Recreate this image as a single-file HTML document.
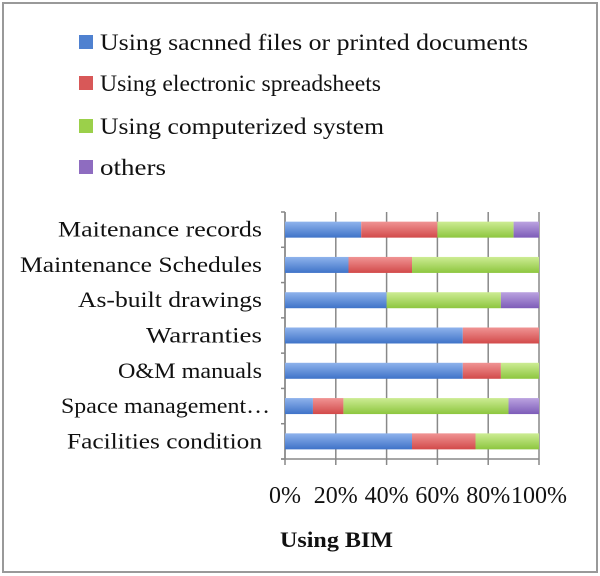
<!DOCTYPE html>
<html><head><meta charset="utf-8"><style>
body{margin:0;background:#fff;}
svg{display:block;font-family:"Liberation Serif",serif;}
</style></head><body>
<svg width="600" height="576" viewBox="0 0 600 576">
<defs>
<linearGradient id="gb" x1="0" y1="0" x2="0" y2="1"><stop offset="0" stop-color="#8fb3ec"/><stop offset="1" stop-color="#3f73c8"/></linearGradient>
<linearGradient id="gr" x1="0" y1="0" x2="0" y2="1"><stop offset="0" stop-color="#f09494"/><stop offset="1" stop-color="#d24a4a"/></linearGradient>
<linearGradient id="gg" x1="0" y1="0" x2="0" y2="1"><stop offset="0" stop-color="#cdec94"/><stop offset="1" stop-color="#8dc63f"/></linearGradient>
<linearGradient id="gp" x1="0" y1="0" x2="0" y2="1"><stop offset="0" stop-color="#bba3e0"/><stop offset="1" stop-color="#7d5cb8"/></linearGradient>
</defs>
<rect x="3" y="3" width="594" height="569" fill="#fff" stroke="#999" stroke-width="2"/>
<g id="legend"></g>
<g id="grid"></g>
<g id="bars"></g>
<g id="labels"></g>
<text x="280" y="547" textLength="113" lengthAdjust="spacingAndGlyphs" font-size="22" font-weight="bold" fill="#111">Using BIM</text>
</svg>
<script>
const categories = ["Maitenance records","Maintenance Schedules","As-built drawings","Warranties","O&M manuals","Space management…","Facilities condition"];
const seriesNames = ["Using sacnned files or printed documents","Using electronic spreadsheets","Using computerized system","others"];
const scanned = [30,25,40,70,70,11,50];
const spreadsheets = [30,25,0,30,15,12,25];
const computerized = [30,50,45,0,15,65,25];
const others = [10,0,15,0,0,12,0];
const tickLabels = ["0%","20%","40%","60%","80%","100%"];
const tickValues = [0,20,40,60,80,100];

const NS="http://www.w3.org/2000/svg";
const fills=["url(#gb)","url(#gr)","url(#gg)","url(#gp)"];
const legendFill=["#4f81d0","#d85858","#9bd04a","#8e6cc0"];
const legendW=[428,281,284,66];
const catStart=[58,20,78,146,118,61,67];
const catEnd=[262,262,262,262,262,270,262];
const X0=285,X1=539,Y0=212,Y1=459;
const band=(Y1-Y0)/categories.length;
const xs=v=>X0+(X1-X0)*v/100;
const yc=i=>Y0+band*(i+0.5);
function mk(tag,attrs,parent){const e=document.createElementNS(NS,tag);for(const k in attrs)e.setAttribute(k,attrs[k]);parent.appendChild(e);return e;}
const gL=document.getElementById('legend'),gG=document.getElementById('grid'),gB=document.getElementById('bars'),gT=document.getElementById('labels');
const ly=[42,83,126,167];
seriesNames.forEach((n,i)=>{
 const r=mk('rect',{x:79,y:ly[i]-7,width:14,height:14,fill:legendFill[i]},gL);
 
 
 const t=mk('text',{x:100,y:ly[i]+8,'font-size':23,fill:'#111',textLength:legendW[i],lengthAdjust:'spacingAndGlyphs'},gL);t.textContent=n;
 
 
});
tickValues.forEach((v,i)=>{
 const l=mk('line',{x1:xs(v),x2:xs(v),y1:Y0,y2:Y1+6,stroke:'#888','stroke-width':1.5},gG);
 
 
 const t=mk('text',{x:xs(v),y:503,'text-anchor':'middle','font-size':24,fill:'#111'},gT);t.textContent=tickLabels[i];
 
 
});
const ax=mk('line',{x1:X0,x2:X0,y1:Y0,y2:Y1,stroke:'#888','stroke-width':1.5},gG);


const bx=mk('line',{x1:X0-4,x2:X1,y1:Y1,y2:Y1,stroke:'#888','stroke-width':1.5},gG);


for(let i=0;i<=categories.length;i++){mk('line',{x1:X0-4,x2:X0,y1:Y0+band*i,y2:Y0+band*i,stroke:'#888','stroke-width':1.5},gG);}
const series=[scanned,spreadsheets,computerized,others];
categories.forEach((c,i)=>{
 let acc=0;
 series.forEach((s,j)=>{
  const v=s[i];
  if(v>0){const r=mk('rect',{x:xs(acc),y:yc(i)-8,width:xs(acc+v)-xs(acc),height:16,fill:fills[j]},gB);
   
   }
  acc+=v;
 });
 const t=mk('text',{x:catStart[i],y:yc(i)+7,'font-size':22,fill:'#111',textLength:catEnd[i]-catStart[i],lengthAdjust:'spacingAndGlyphs'},gT);t.textContent=c;
 
 
});
</script>
</body></html>
